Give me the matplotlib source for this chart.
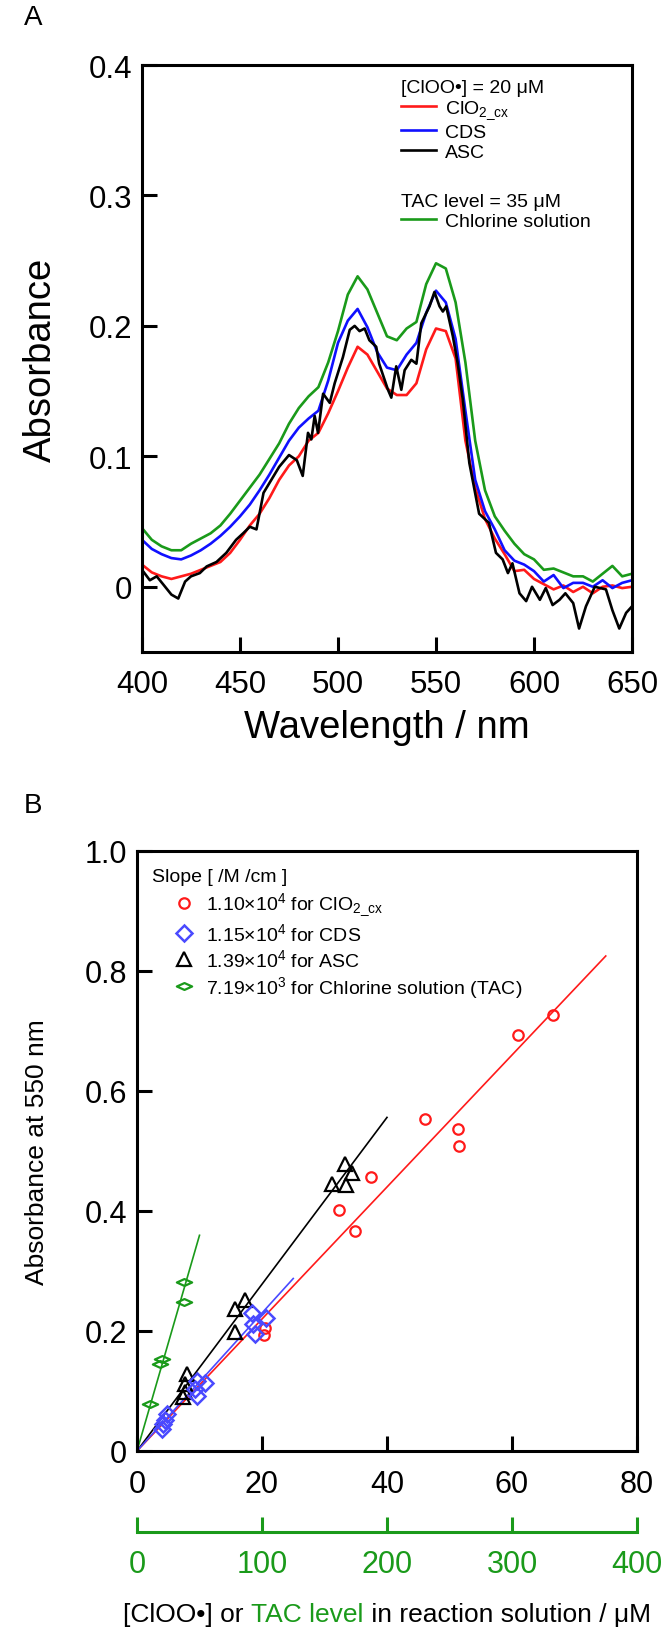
import numpy as np
import matplotlib
matplotlib.use("Agg")
import matplotlib.pyplot as plt
from matplotlib.path import Path

plt.rcParams['font.family'] = ['Liberation Sans', 'DejaVu Sans']
plt.rcParams['mathtext.fontset'] = 'custom'
plt.rcParams['mathtext.rm'] = 'Liberation Sans'
plt.rcParams['mathtext.it'] = 'Liberation Sans:italic'
plt.rcParams['mathtext.default'] = 'regular'

# ---------------- panel A : spectra ----------------
wavelength = np.arange(400, 651, 5)
abs_clo2 = [0.017, 0.011, 0.008, 0.006, 0.008, 0.010, 0.013, 0.016, 0.019, 0.026,
            0.036, 0.047, 0.056, 0.068, 0.082, 0.093, 0.100, 0.112, 0.118, 0.133,
            0.150, 0.168, 0.184, 0.178, 0.165, 0.152, 0.147, 0.147, 0.156, 0.182,
            0.198, 0.196, 0.175, 0.112, 0.076, 0.052, 0.037, 0.025, 0.012, 0.013,
            0.006, 0.002, -0.002, 0.001, -0.004, 0.000, -0.005, 0.000, 0.001, -0.001,
            0.000]
abs_cds = [0.036, 0.029, 0.025, 0.022, 0.021, 0.024, 0.028, 0.033, 0.039, 0.046,
           0.054, 0.063, 0.074, 0.086, 0.099, 0.112, 0.122, 0.129, 0.135, 0.158,
           0.187, 0.204, 0.213, 0.199, 0.180, 0.168, 0.166, 0.178, 0.187, 0.210,
           0.227, 0.218, 0.190, 0.135, 0.082, 0.058, 0.044, 0.028, 0.020, 0.017,
           0.012, 0.004, 0.009, -0.001, 0.003, 0.003, 0.000, 0.005, -0.001, 0.003,
           0.005]
abs_chlorine = [0.045, 0.036, 0.031, 0.028, 0.028, 0.033, 0.037, 0.041, 0.047, 0.056,
                0.066, 0.076, 0.086, 0.098, 0.110, 0.125, 0.137, 0.146, 0.153, 0.172,
                0.196, 0.224, 0.238, 0.228, 0.210, 0.192, 0.189, 0.198, 0.203, 0.232,
                0.248, 0.244, 0.218, 0.172, 0.112, 0.074, 0.054, 0.043, 0.033, 0.025,
                0.021, 0.013, 0.014, 0.011, 0.008, 0.008, 0.004, 0.010, 0.016, 0.008,
                0.010]
# ASC spectrum is noisier, read at irregular points
wl_asc = [400, 404, 407.5, 411, 415, 418.5, 422, 425, 429.5, 433,
          438, 443, 448, 451.6, 455, 458.4, 462, 466, 470, 475,
          479, 482, 484.7, 486.4, 488.1, 489.8, 492.4, 495.8, 498.3, 502.5,
          506, 508.5, 511, 513.6, 516, 519.5, 521, 525.5, 527.2, 529.7,
          532.3, 534, 537.4, 540, 542.5, 546.7, 549.2, 551.8, 553.5, 555.2,
          558.6, 561.1, 563.7, 567, 572, 577, 580.6, 584, 586.7, 589,
          592.6, 596, 599, 603, 606, 609.5, 613, 616, 620, 623,
          626.5, 631, 636.7, 640, 643.5, 647, 650]
abs_asc = [0.013, 0.005, 0.008, 0.0015, -0.006, -0.009, 0.004, 0.008, 0.0105, 0.0156,
           0.019, 0.026, 0.036, 0.041, 0.046, 0.044, 0.072, 0.082, 0.092, 0.101,
           0.097, 0.085, 0.118, 0.113, 0.131, 0.118, 0.148, 0.141, 0.156, 0.176,
           0.197, 0.200, 0.196, 0.198, 0.189, 0.184, 0.171, 0.151, 0.145, 0.169,
           0.151, 0.166, 0.174, 0.171, 0.202, 0.215, 0.226, 0.215, 0.211, 0.215,
           0.192, 0.171, 0.143, 0.095, 0.056, 0.049, 0.026, 0.021, 0.0105, 0.018,
           -0.005, -0.011, 0.000, -0.010, -0.001, -0.014, -0.010, -0.005, -0.0125, -0.032,
           -0.015, 0.000, -0.002, -0.018, -0.032, -0.020, -0.015]

# ---------------- panel B : calibration ----------------
clo2_conc = [20.3, 20.5, 32.3, 34.9, 37.4, 46.0, 51.4, 51.5, 61.0, 66.5]
clo2_abs = [0.193, 0.205, 0.402, 0.366, 0.457, 0.554, 0.537, 0.509, 0.693, 0.727]
cds_conc = [4.0, 4.2, 4.5, 4.8, 9.3, 9.55, 9.55, 10.9, 18.4, 18.6, 18.8, 20.6]
cds_abs = [0.037, 0.045, 0.052, 0.062, 0.103, 0.092, 0.117, 0.114, 0.230, 0.212, 0.195, 0.221]
asc_conc = [7.4, 7.7, 7.7, 7.95, 15.6, 15.6, 17.2, 31.2, 33.3, 33.4, 34.4]
asc_abs = [0.090, 0.098, 0.112, 0.128, 0.198, 0.237, 0.251, 0.445, 0.478, 0.443, 0.463]
tac_level = [10.4, 18.5, 19.8, 37.9, 37.9]
tac_abs = [0.078, 0.145, 0.153, 0.248, 0.281]

# slopes in /M /cm and the range of each fitted line (uM)
slope_clo2, slope_cds, slope_asc, slope_tac = 1.10e4, 1.15e4, 1.39e4, 7.19e3
fit_max_clo2, fit_max_cds, fit_max_asc, fit_max_tac = 75, 25, 40, 50

red = '#ff1a1a'
blue = '#1010ff'
blue_b = '#4a4aff'
green = '#1a9a1a'

fig = plt.figure(figsize=(6.7, 16.31), dpi=100)
W, H = 670, 1631


def box(l, t, r, b):
    return [l / W, 1 - b / H, (r - l) / W, (b - t) / H]


# ================= panel A =================
axA = fig.add_axes(box(142, 66, 632, 653))
lc, = axA.plot(wavelength, abs_clo2, color=red, lw=1.9)
ld, = axA.plot(wavelength, abs_cds, color=blue, lw=1.9)
la, = axA.plot(wl_asc, abs_asc, color='black', lw=1.9)
lt, = axA.plot(wavelength, abs_chlorine, color=green, lw=1.9)
axA.set_xlim(400, 650)
axA.set_ylim(-0.05, 0.4)
axA.set_xticks([400, 450, 500, 550, 600, 650])
axA.set_yticks([0, 0.1, 0.2, 0.3, 0.4], labels=['0', '0.1', '0.2', '0.3', '0.4'])
axA.tick_params(direction='in', length=11, width=2.2, labelsize=22.5)
axA.tick_params(axis='y', pad=7)
axA.tick_params(axis='x', pad=12)
for s in axA.spines.values():
    s.set_linewidth(2.2)
axA.set_xlabel('Wavelength / nm', fontsize=27.5)
axA.xaxis.set_label_coords(0.5, -0.097)
axA.set_ylabel('Absorbance', fontsize=27.5)
axA.yaxis.set_label_coords(-0.17, 0.5)

leg_kw = dict(loc='upper left', frameon=False, fontsize=14, title_fontsize=14,
              handlelength=1.8, handletextpad=0.46, labelspacing=0.12,
              borderpad=0, borderaxespad=0, alignment='left')
fig.legend([lc, ld, la], ['ClO$_{2\\_cx}$', 'CDS', 'ASC'],
           title='[ClOO\u2022] = 20 \u03bcM', bbox_to_anchor=(401 / W, 1 - 80 / H), **leg_kw)
fig.legend([lt], ['Chlorine solution'],
           title='TAC level = 35 \u03bcM', bbox_to_anchor=(401 / W, 1 - 194 / H), **leg_kw)

fig.text(33 / W, 1 - 18 / H, 'A', fontsize=20, ha='center', va='center')

# ================= panel B =================
axB = fig.add_axes(box(137, 852, 637, 1452))
xc = np.array([0, fit_max_clo2])
axB.plot(xc, slope_clo2 * 1e-6 * xc, color=red, lw=1.2)
xd = np.array([0, fit_max_asc])
axB.plot(xd, slope_asc * 1e-6 * xd, color='black', lw=1.2)
xb = np.array([0, fit_max_cds])
axB.plot(xb, slope_cds * 1e-6 * xb, color=blue_b, lw=1.2)
xt = np.array([0, fit_max_tac])
axB.plot(xt / 5, slope_tac * 1e-6 * xt, color=green, lw=1.2)

flat_diamond = Path([(-1, 0), (0, 0.45), (1, 0), (0, -0.45), (-1, 0)],
                    [Path.MOVETO, Path.LINETO, Path.LINETO, Path.LINETO, Path.CLOSEPOLY])

pc, = axB.plot(clo2_conc, clo2_abs, ls='none', marker='o', ms=7.5, mfc='none', mec=red, mew=1.6)
pa, = axB.plot(asc_conc, asc_abs, ls='none', marker='^', ms=10, mfc='none', mec='black', mew=1.6)
pd, = axB.plot(cds_conc, cds_abs, ls='none', marker='D', ms=8.5, mfc='none', mec=blue_b, mew=1.8)
pt, = axB.plot(np.array(tac_level) / 5, tac_abs, ls='none', marker=flat_diamond, ms=11,
               mfc='none', mec=green, mew=1.6)

axB.set_xlim(0, 80)
axB.set_ylim(0, 1.0)
axB.set_xticks([0, 20, 40, 60, 80])
axB.set_yticks([0, 0.2, 0.4, 0.6, 0.8, 1.0], labels=['0', '0.2', '0.4', '0.6', '0.8', '1.0'])
axB.tick_params(direction='in', length=11, width=2.2, labelsize=22)
axB.tick_params(axis='y', pad=7)
axB.tick_params(axis='x', pad=13)
for s in axB.spines.values():
    s.set_linewidth(2.2)
axB.set_ylabel('Absorbance at 550 nm', fontsize=19)
axB.yaxis.set_label_coords(-0.175, 0.5)

# TAC level axis underneath
sec = axB.secondary_xaxis(-0.135, functions=(lambda x: x * 5, lambda x: x / 5))
sec.set_xticks([0, 100, 200, 300, 400])
sec.tick_params(direction='in', length=11, width=2.2, colors=green, labelsize=22, pad=12)
sec.spines['bottom'].set_color(green)
sec.spines['bottom'].set_linewidth(2.2)

axB.text(15 / 500, 1 - 26 / 600, 'Slope [ /M /cm ]', transform=axB.transAxes,
         fontsize=14, ha='left', va='center')
fig.legend([pc, pd, pa, pt],
           ['1.10\u00d710$^4$ for ClO$_{2\\_cx}$', '1.15\u00d710$^4$ for CDS',
            '1.39\u00d710$^4$ for ASC', '7.19\u00d710$^3$ for Chlorine solution (TAC)'],
           loc='upper left', bbox_to_anchor=(174 / W, 1 - 892 / H), frameon=False,
           fontsize=14, handlelength=1.0, handletextpad=0.63, labelspacing=0.2,
           borderpad=0, borderaxespad=0, numpoints=1)

fig.text(33 / W, 1 - 806 / H, 'B', fontsize=20, ha='center', va='center')

# two-colour x label of panel B
t1 = fig.text(0.2, 1 - 1615 / H, '[ClOO\u2022] or ', fontsize=19, ha='left', va='center')
t2 = axB.annotate('TAC level', xy=(1, 0), xycoords=t1, fontsize=19, color=green,
                  ha='left', va='bottom')
t3 = axB.annotate(' in reaction solution / \u03bcM', xy=(1, 0), xycoords=t2, fontsize=19,
                  ha='left', va='bottom')
fig.canvas.draw()
r = fig.canvas.get_renderer()
x0 = t1.get_window_extent(r).x0
x1 = t3.get_window_extent(r).x1
centre = (137 + 637) / 2
t1.set_x((centre - (x1 - x0) / 2) / W)

fig.savefig('out.png', dpi=100)
